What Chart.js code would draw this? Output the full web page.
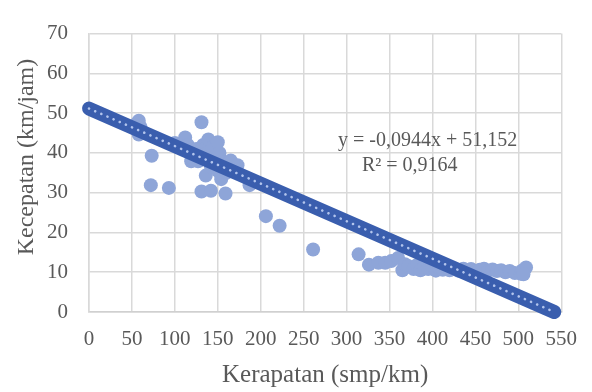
<!DOCTYPE html>
<html>
<head>
<meta charset="utf-8">
<script src="https://cdn.jsdelivr.net/npm/chart.js@4/dist/chart.umd.min.js"></script>
<style>
  html, body { margin: 0; padding: 0; background: #ffffff; }
  #wrap { width: 592px; height: 392px; position: relative; }
</style>
</head>
<body>
<div id="wrap"><canvas id="c" width="592" height="392"></canvas></div>
<script>
// Observed data: density (smp/km) and speed (km/jam)
const densityX = [58, 56, 60, 58, 63, 73, 72, 93,
  100, 105, 112, 115, 119, 122, 125, 127, 128, 131, 133, 135, 136, 138, 139, 140, 142, 144, 146, 148, 150, 150, 152, 154, 154, 156, 158, 160, 162, 165, 168, 173,
  131, 142, 159, 187, 206, 222, 261,
  314, 326, 337, 345, 352, 360, 365, 368, 372, 378, 382, 386, 390, 395, 400, 404, 408, 412, 416, 420, 425, 430, 436, 440, 445, 450, 455, 460, 465, 470, 475, 480, 485, 490, 496, 503, 505, 509, 506];
const speedY = [48.1, 47.5, 46.5, 44.6, 45.0, 39.3, 31.9, 31.2,
  42.5, 42.0, 43.9, 42.0, 37.9, 40.0, 41.0, 37.9, 39.5, 47.7, 42.0, 41.0, 34.3, 40.0, 43.4, 38.0, 36.5, 41.5, 39.0, 37.0, 42.7, 35.5, 40.0, 34.6, 33.4, 37.5, 36.0, 35.0, 37.5, 38.1, 36.0, 36.9,
  30.3, 30.5, 29.8, 31.9, 24.1, 21.7, 15.7,
  14.5, 11.9, 12.4, 12.4, 12.8, 13.6, 10.5, 12.0, 11.5, 10.8, 11.8, 10.5, 11.2, 10.8, 11.5, 10.4, 11.0, 10.6, 11.3, 10.5, 10.8, 10.4, 10.9, 10.5, 10.8, 10.2, 10.6, 10.9, 10.4, 10.7, 10.3, 10.5, 10.0, 10.3, 9.8, 9.6, 10.5, 11.2, 9.5];

// Linear trendline endpoints as shown (y = -0,0944x + 51,152)
const trendX = [0, 541.9];
const trendY = [51.152, 0];

const xTicks = [0, 50, 100, 150, 200, 250, 300, 350, 400, 450, 500, 550];
const yTicks = [0, 10, 20, 30, 40, 50, 60, 70];

const eqText = 'y = -0,0944x + 51,152';
const r2Text = 'R² = 0,9164';
const xTitle = 'Kerapatan (smp/km)';
const yTitle = 'Kecepatan (km/jam)';

const FONT = "'Liberation Serif', 'Times New Roman', serif";
const TXT = '#595959';

const pts = densityX.map((x, i) => ({ x: x, y: speedY[i] }));
const trend = trendX.map((x, i) => ({ x: x, y: trendY[i] }));

const textPlugin = {
  id: 'texts',
  afterDraw(chart) {
    const ctx = chart.ctx;
    ctx.save();
    ctx.fillStyle = TXT;
    ctx.font = '20px ' + FONT;
    ctx.textBaseline = 'middle';
    ctx.textAlign = 'left';
    ctx.fillText(eqText, 338, 141);
    ctx.fillText(r2Text, 362, 166);
    // y axis title
    ctx.translate(27, 157);
    ctx.rotate(-Math.PI / 2);
    ctx.textAlign = 'center';
    ctx.font = '24px ' + FONT;
    ctx.fillText(yTitle, 0, 0);
    ctx.restore();
  }
};

new Chart(document.getElementById('c'), {
  type: 'scatter',
  data: {
    datasets: [
      {
        label: 'dots',
        data: trend,
        showLine: true,
        clip: false,
        pointRadius: 0,
        borderColor: 'rgba(185,202,240,0.95)',
        borderWidth: 2.6,
        borderDash: [0.1, 6.6],
        borderCapStyle: 'round',
        order: 0
      },
      {
        label: 'trend',
        data: trend,
        showLine: true,
        clip: false,
        pointRadius: 0,
        borderColor: '#3A5EAE',
        borderWidth: 14,
        borderCapStyle: 'round',
        order: 1
      },
      {
        label: 'data',
        data: pts,
        pointRadius: 7,
        pointHoverRadius: 7,
        backgroundColor: '#8EA5D8',
        borderWidth: 0,
        order: 2
      }
    ]
  },
  options: {
    responsive: false,
    animation: false,
    events: [],
    layout: { padding: { top: 18, right: 23, left: 0, bottom: 0 } },
    plugins: { legend: { display: false }, tooltip: { enabled: false } },
    scales: {
      x: {
        type: 'linear',
        min: 0, max: 550,
        afterBuildTicks(s) { s.ticks = xTicks.map(v => ({ value: v })); },
        afterFit(s) { s.height = 80; },
        grid: { color: '#d9d9d9', lineWidth: 1.5, drawTicks: false },
        border: { color: '#d0d0d0', width: 1.5 },
        ticks: { color: TXT, font: { family: FONT, size: 21 }, padding: 15, maxRotation: 0, autoSkip: false },
        title: { display: true, text: xTitle, color: TXT, font: { family: FONT, size: 25 }, padding: { top: 2, bottom: 2 } }
      },
      y: {
        type: 'linear',
        min: 0, max: 70,
        afterBuildTicks(s) { s.ticks = yTicks.map(v => ({ value: v })); },
        afterFit(s) { s.width = 89; },
        grid: { color: '#d9d9d9', lineWidth: 1.5, drawTicks: false },
        border: { color: '#d9d9d9', width: 1.5 },
        ticks: { color: TXT, font: { family: FONT, size: 21 }, padding: 21, autoSkip: false },
        title: { display: false }
      }
    }
  },
  plugins: [textPlugin]
});
</script>
</body>
</html>
